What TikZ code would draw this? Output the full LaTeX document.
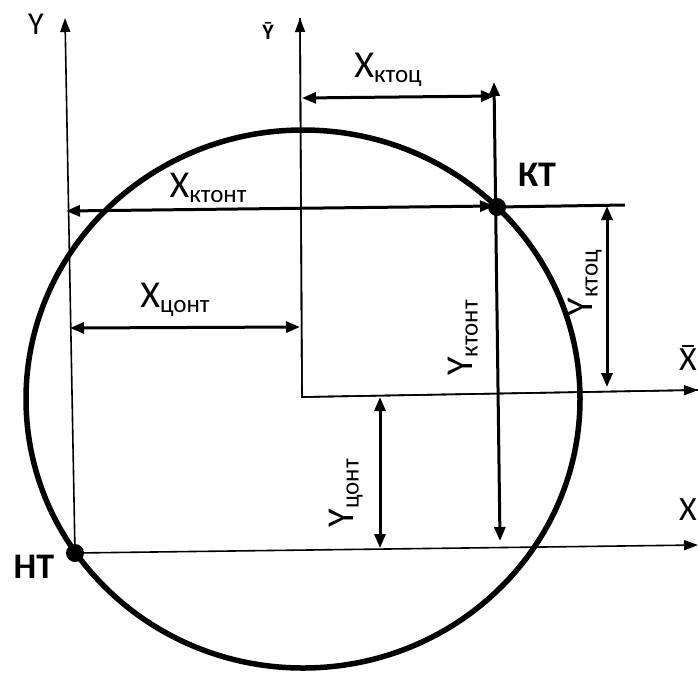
\documentclass[tikz,border=0pt]{standalone}
\usepackage{fontspec}
\setmainfont{Carlito}
\usetikzlibrary{arrows.meta}
\newcommand{\symb}[2]{{\fontsize{38}{38}\selectfont #1}\raisebox{-5pt}{\fontsize{25}{25}\selectfont #2}}
\newcommand{\barX}{\leavevmode\rlap{\kern3pt\raisebox{24pt}{\rule{12pt}{1.6pt}}}X}
\begin{document}
\begin{tikzpicture}[x=1pt,y=-1pt,
  axisline/.style={line width=1.6pt,-{Triangle[length=14pt,width=10pt]}},
  dimline/.style={line width=3pt,{Triangle[length=14pt,width=11pt]}-{Triangle[length=14pt,width=11pt]}},
  plainline/.style={line width=3pt},
  dot/.style={circle,fill=black,inner sep=0pt,minimum size=18pt},
  lbl/.style={inner sep=0pt,anchor=center},
  ptlbl/.style={inner sep=0pt,font=\fontsize{36}{36}\selectfont\bfseries}]
\useasboundingbox (0,0) rectangle (698,673);
\fill[white] (0,0) rectangle (698,673);
% contour
\draw[line width=5.5pt] (303,399) ellipse [x radius=277pt, y radius=269pt];
% points
\node[dot] (KT) at (497,207) {};
\node[dot] (NT) at (75,553) {};
% named coordinates
\coordinate (Ytop) at (65,18);
\coordinate (Xend) at (698,545);
\coordinate (O) at (302,397);
\coordinate (Ybtop) at (300,18);
\coordinate (Xbend) at (698,390);
\coordinate (KTtop) at (494,82);
\coordinate (KTbot) at (500,541);
\coordinate (KTright) at (625,205);
% axes
\draw[axisline] (NT.center) -- (Ytop);
\draw[axisline] (NT.center) -- (Xend);
\draw[line width=1.6pt] (Ybtop) -- (O) -- (Xbend);
\draw[axisline] (O) -- (Ybtop);
\draw[axisline] (O) -- (Xbend);
% KT vertical and horizontal
\draw[dimline] (KTtop) -- (KTbot);
\draw[plainline] (KT.center) -- (KTright);
% dimension lines
\coordinate (a1) at (302,98);  \coordinate (a2) at (495,96);
\draw[dimline] (a1) -- (a2);
\coordinate (b1) at (66,211);  \coordinate (b2) at (494,206);
\draw[dimline] (b1) -- (b2);
\coordinate (c1) at (70,328);  \coordinate (c2) at (300,327);
\draw[dimline] (c1) -- (c2);
\coordinate (d1) at (607,206); \coordinate (d2) at (607,387);
\draw[dimline] (d1) -- (d2);
\coordinate (e1) at (380,397); \coordinate (e2) at (380,548);
\draw[dimline] (e1) -- (e2);
% labels
\node[lbl] (lY) at (36,24) {\fontsize{32}{32}\selectfont Y};
\node[lbl] (lYb) at (268,31) {\fontsize{22}{22}\selectfont\bfseries \=Y};
\node[lbl] (lX) at (688,510) {\fontsize{34}{34}\selectfont X};
\node[lbl] (lXb) at (688,358) {\fontsize{34}{34}\selectfont \barX};
\node[lbl] (lXktoc) at (388,70) {\symb{X}{ктоц}};
\node[lbl] (lXktont) at (208,188) {\symb{X}{ктонт}};
\node[lbl] (lXcont) at (175,300) {\symb{X}{цонт}};
\node[lbl,rotate=90] (lYktont) at (463,338) {\symb{Y}{ктонт}};
\node[lbl,rotate=90] (lYktoc) at (585,283) {\symb{Y}{ктоц}};
\node[lbl,rotate=90] (lYcont) at (346,493) {\symb{Y}{цонт}};
\node[ptlbl] (lKT) at (537,175) {КТ};
\node[ptlbl] (lNT) at (34,567) {НТ};
\end{tikzpicture}
\end{document}
